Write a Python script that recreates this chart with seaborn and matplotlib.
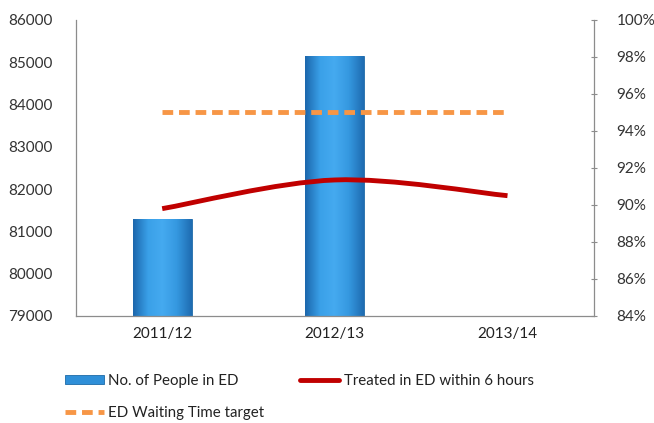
import numpy as np
import pandas as pd
import seaborn as sns
import matplotlib.pyplot as plt
from matplotlib.path import Path
from matplotlib.patches import PathPatch, Patch
from matplotlib.lines import Line2D
from matplotlib.colors import LinearSegmentedColormap
from matplotlib.ticker import PercentFormatter

# ---- data ----
years = ["2011/12", "2012/13", "2013/14"]
people_in_ed = [81300, 85150]            # no bar for 2013/14
treated_6h = [89.8, 91.35, 90.5]          # % treated within 6 hours
target = [95, 95, 95]                     # ED waiting time target, %

sns.set_style("white")
plt.rcParams["font.family"] = ["Lato", "DejaVu Sans"]

fig = plt.figure(figsize=(6.54, 4.23), dpi=100)
ax = fig.add_axes([0.116, 0.253, 0.792, 0.70])

# bars
df_bars = pd.DataFrame({"year": years[:len(people_in_ed)], "people": people_in_ed})
sns.barplot(data=df_bars, x="year", y="people", order=years, ax=ax,
            color="#2f8fd8", width=0.34, edgecolor="#1d6aa8", linewidth=0.6)

# horizontal shading on the bars, like the Excel bevel
cmap = LinearSegmentedColormap.from_list(
    "bevel", ["#1c68ad", "#3aa0e8", "#45aaf0", "#3598e0", "#1f6db2"])
grad = np.linspace(0, 1, 64).reshape(1, -1)
for bar in ax.patches:
    x0, y0 = bar.get_x(), bar.get_y()
    w, h = bar.get_width(), bar.get_height()
    if not np.isfinite(h) or h == 0:
        continue
    im = ax.imshow(grad, cmap=cmap, aspect="auto", extent=[x0, x0 + w, 79000, y0 + h],
                   zorder=bar.get_zorder() + 0.1)
    im.set_clip_path(bar)

ax.set_xlim(-0.5, 2.5)
ax.set_ylim(79000, 86000)
ax.set_yticks(np.arange(79000, 86001, 1000))
ax.set_xlabel("")
ax.set_ylabel("")
ax.tick_params(axis="y", length=0, pad=17, labelsize=11, colors="#333333")
ax.tick_params(axis="x", length=0, pad=8, labelsize=11, colors="#222222")

# right axis with the percentages
ax2 = ax.twinx()
xpos = np.arange(len(years))
df_lines = pd.DataFrame({"x": xpos, "treated": treated_6h, "target": target})
sns.lineplot(data=df_lines, x="x", y="target", ax=ax2, color="#f79646",
             linewidth=3.5, dashes=[(2.2, 1.2)], style=[0] * len(years), legend=False)

# smoothed red line through the points (Excel-style smoothing)
pts = np.column_stack([xpos, treated_6h]).astype(float)
ext = np.vstack([pts[0], pts, pts[-1]])
verts = [tuple(pts[0])]
codes = [Path.MOVETO]
for i in range(len(pts) - 1):
    p0, p1, p2, p3 = ext[i], ext[i + 1], ext[i + 2], ext[i + 3]
    c1 = p1 + (p2 - p0) / 6
    c2 = p2 - (p3 - p1) / 6
    verts += [tuple(c1), tuple(c2), tuple(p2)]
    codes += [Path.CURVE4] * 3
ax2.add_patch(PathPatch(Path(verts, codes), facecolor="none", edgecolor="#c00000",
                        linewidth=3.5, capstyle="butt", zorder=3))

ax2.set_ylim(84, 100)
ax2.set_yticks(np.arange(84, 100.1, 2))
ax2.yaxis.set_major_formatter(PercentFormatter(decimals=0))
ax2.set_ylabel("")
ax2.set_xlabel("")
ax2.tick_params(axis="y", length=5, direction="inout", pad=14, labelsize=11,
                colors="#333333", color="#8c8c8c")
ax.set_xticks(xpos)
ax.set_xticklabels(years)

for a in (ax, ax2):
    for s in a.spines.values():
        s.set_visible(False)
ax.spines["left"].set_visible(True)
ax.spines["bottom"].set_visible(True)
ax2.spines["right"].set_visible(True)
for s in (ax.spines["left"], ax.spines["bottom"], ax2.spines["right"]):
    s.set_color("#8c8c8c")
    s.set_linewidth(0.9)

# legend below the plot
handles = [
    Patch(facecolor="#2f8fd8", edgecolor="#1d6aa8", linewidth=0.6),
    Line2D([0], [0], color="#f79646", linewidth=3.5, dashes=(2.2, 1.2)),
    Line2D([0], [0], color="#c00000", linewidth=3.5),
]
labels = ["No. of People in ED", "ED Waiting Time target", "Treated in ED within 6 hours"]
fig.legend(handles, labels, ncol=2, loc="upper left", bbox_to_anchor=(0.078, 0.148),
           frameon=False, fontsize=10.8, handlelength=2.6, handleheight=0.5,
           handletextpad=0.3, columnspacing=2.4, labelspacing=1.2, labelcolor="#222222")

fig.savefig("out.png", dpi=100, facecolor="white")
